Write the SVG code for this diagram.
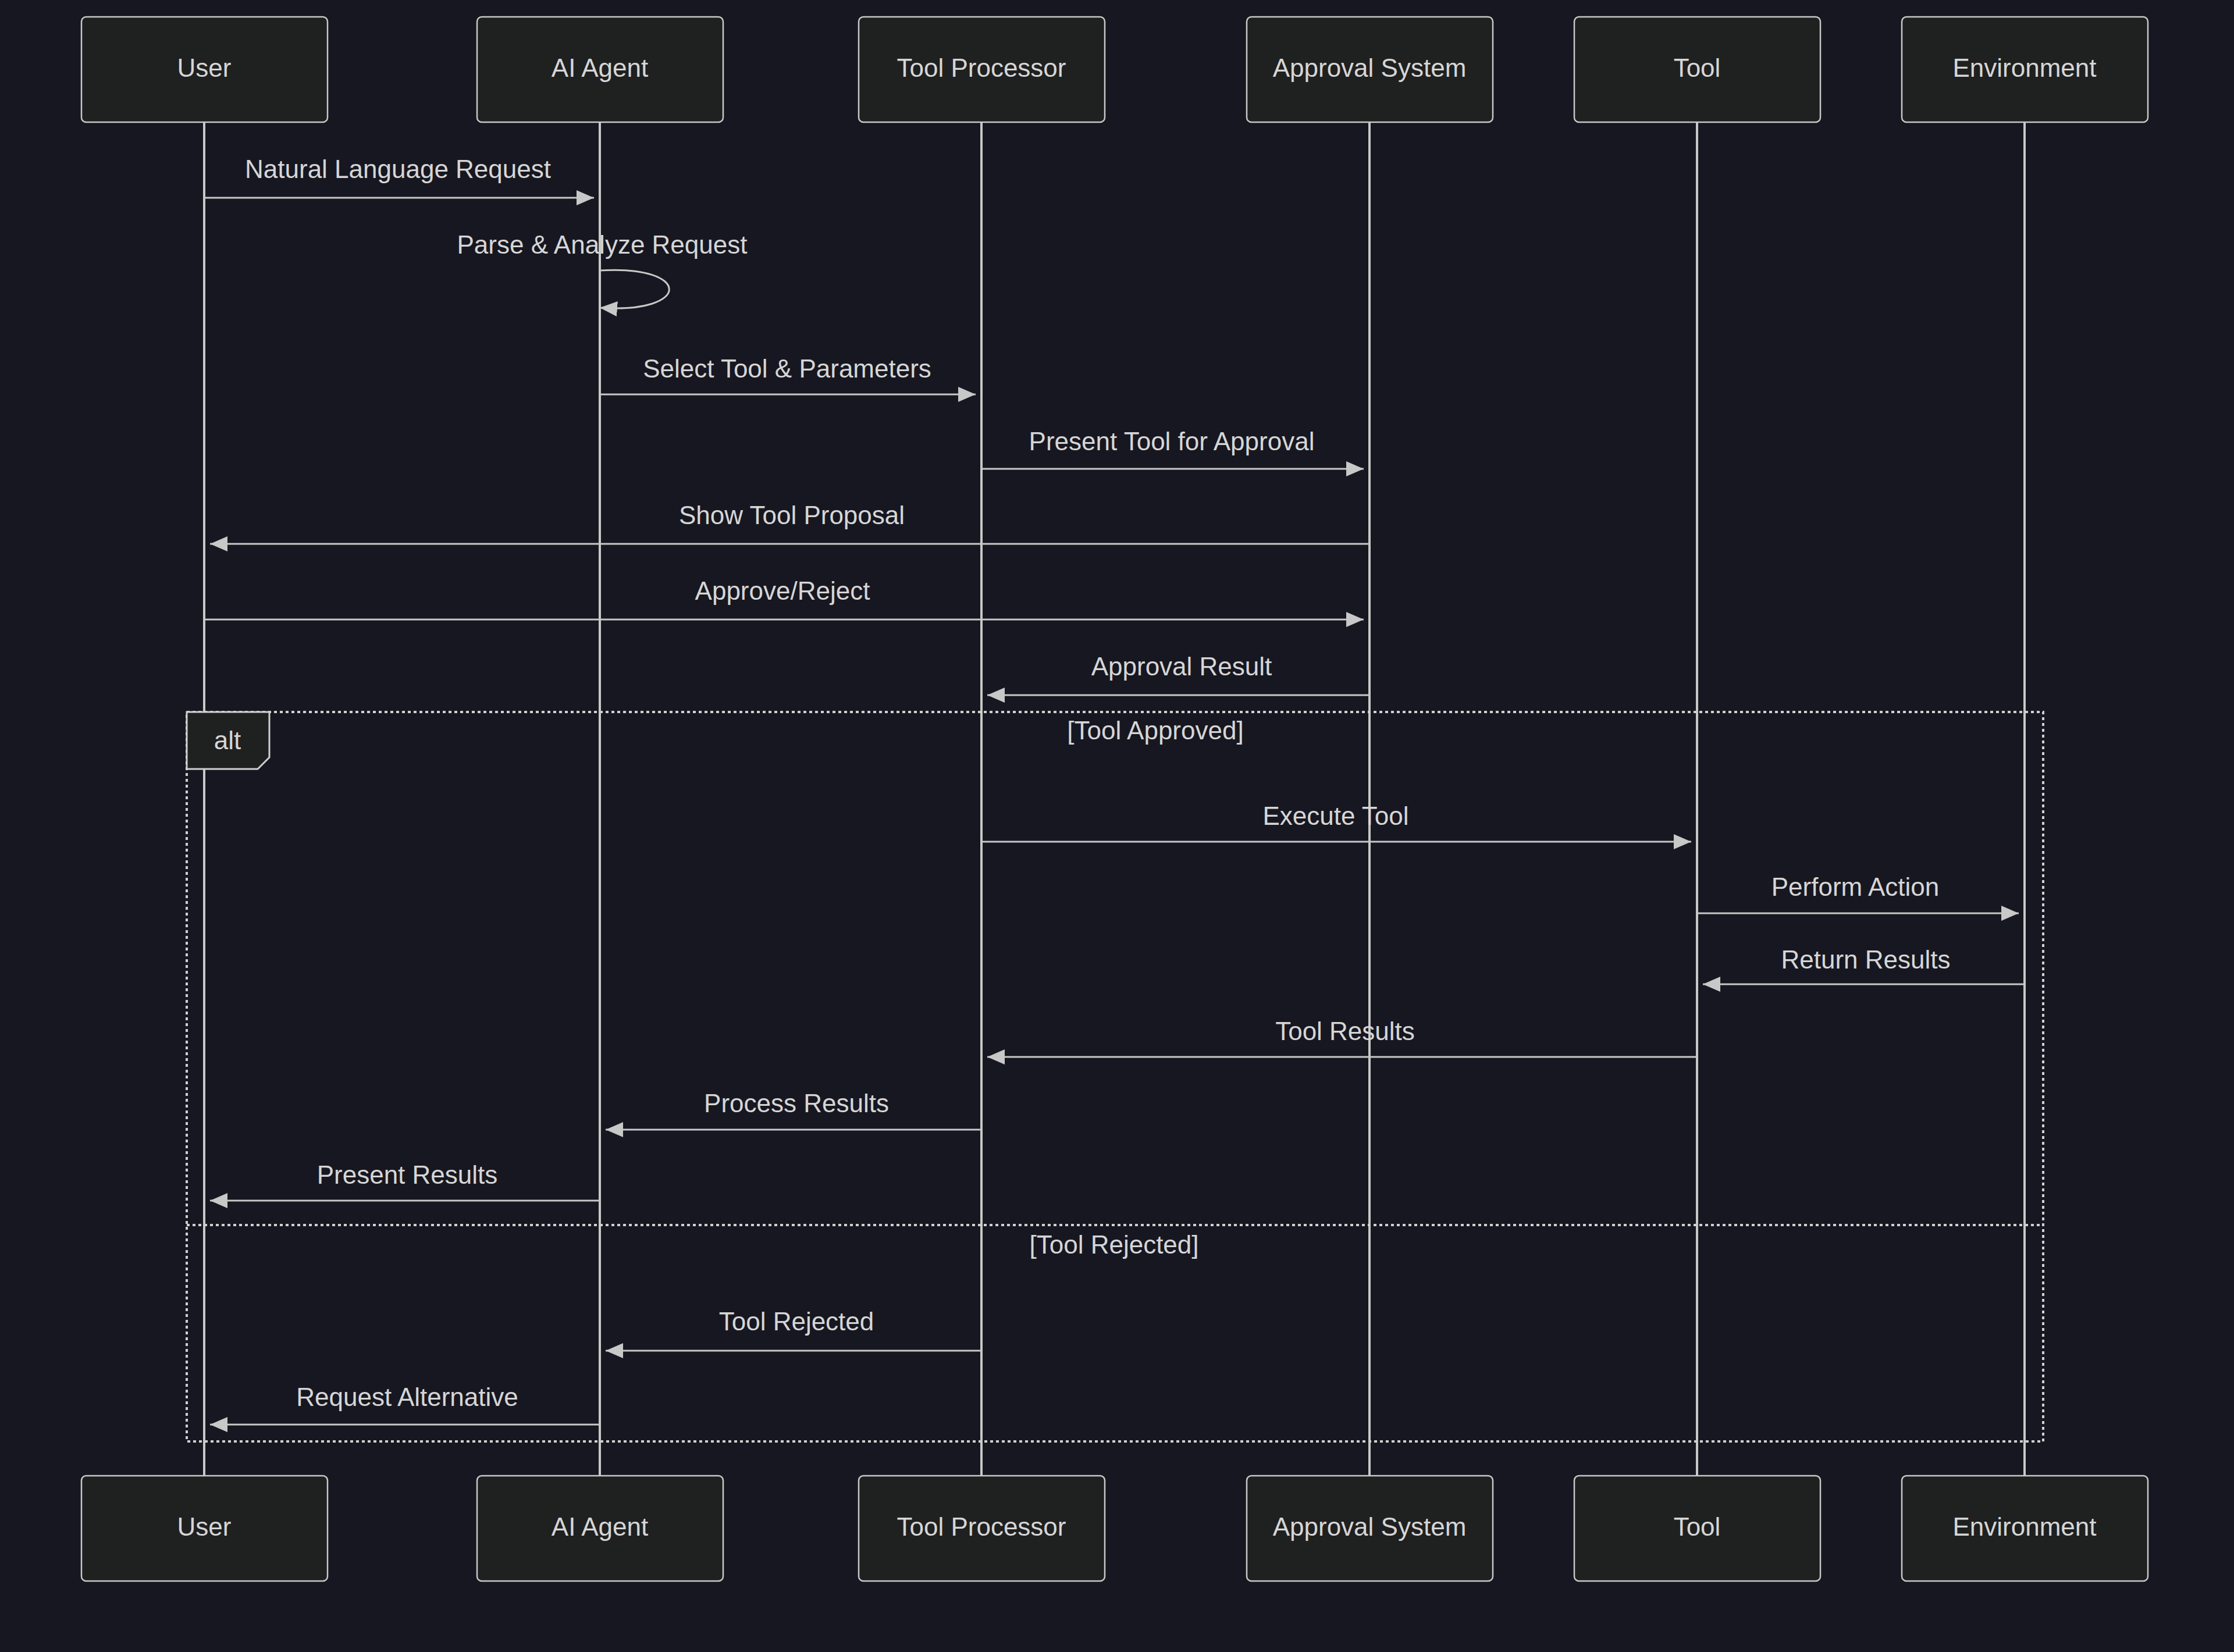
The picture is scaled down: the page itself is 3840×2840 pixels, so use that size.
<svg xmlns="http://www.w3.org/2000/svg" width="3840" height="2840" viewBox="0 0 3840 2840">
<style>
.bg{fill:#171721}
.actor{fill:#1f2020;stroke:#c8c8c8;stroke-width:2.5}
.life{stroke:#c8c8c8;stroke-width:4;fill:none}
.msg{stroke:#c8c8c8;stroke-width:3;fill:none}
.t{font-family:"Liberation Sans",Arial,sans-serif;font-size:44px;fill:#d6d6d6;text-anchor:middle;dominant-baseline:middle}
.frame{stroke:#d0d0d0;stroke-width:4;stroke-dasharray:5 5;fill:none}
</style>
<defs>
<marker id="ah" markerUnits="userSpaceOnUse" markerWidth="30" markerHeight="26" refX="30" refY="13" orient="auto">
<path d="M0,0 L30,13 L0,26 Z" fill="#c8c8c8"/>
</marker>
</defs>
<rect class="bg" x="0" y="0" width="3840" height="2840"/>
<g id="lifelines">
<line class="life" x1="351" y1="211" x2="351" y2="2537"/>
<line class="life" x1="1031" y1="211" x2="1031" y2="2537"/>
<line class="life" x1="1687" y1="211" x2="1687" y2="2537"/>
<line class="life" x1="2354" y1="211" x2="2354" y2="2537"/>
<line class="life" x1="2917" y1="211" x2="2917" y2="2537"/>
<line class="life" x1="3480" y1="211" x2="3480" y2="2537"/>
</g>
<g id="actor-user"><rect class="actor" x="140" y="29" width="423" height="181" rx="8"/><text class="t" x="351" y="120">User</text>
<rect class="actor" x="140" y="2537" width="423" height="181" rx="8"/><text class="t" x="351" y="2628">User</text></g>
<g id="actor-agent"><rect class="actor" x="820" y="29" width="423" height="181" rx="8"/><text class="t" x="1031" y="120">AI Agent</text>
<rect class="actor" x="820" y="2537" width="423" height="181" rx="8"/><text class="t" x="1031" y="2628">AI Agent</text></g>
<g id="actor-processor"><rect class="actor" x="1476" y="29" width="423" height="181" rx="8"/><text class="t" x="1687" y="120">Tool Processor</text>
<rect class="actor" x="1476" y="2537" width="423" height="181" rx="8"/><text class="t" x="1687" y="2628">Tool Processor</text></g>
<g id="actor-approval"><rect class="actor" x="2143" y="29" width="423" height="181" rx="8"/><text class="t" x="2354" y="120">Approval System</text>
<rect class="actor" x="2143" y="2537" width="423" height="181" rx="8"/><text class="t" x="2354" y="2628">Approval System</text></g>
<g id="actor-tool"><rect class="actor" x="2706" y="29" width="423" height="181" rx="8"/><text class="t" x="2917" y="120">Tool</text>
<rect class="actor" x="2706" y="2537" width="423" height="181" rx="8"/><text class="t" x="2917" y="2628">Tool</text></g>
<g id="actor-env"><rect class="actor" x="3269" y="29" width="423" height="181" rx="8"/><text class="t" x="3480" y="120">Environment</text>
<rect class="actor" x="3269" y="2537" width="423" height="181" rx="8"/><text class="t" x="3480" y="2628">Environment</text></g>
<g id="alt-frame">
<rect class="frame" x="321" y="1224" width="3191" height="1254"/>
<line class="frame" x1="321" y1="2106" x2="3512" y2="2106"/>
<path d="M321,1224 H463 V1302 L443,1322 H321 Z" fill="#1f2020" stroke="#d0d0d0" stroke-width="3"/>
<text class="t" x="391" y="1276">alt</text>
<text class="t" x="1986" y="1259">[Tool Approved]</text>
<text class="t" x="1915" y="2143">[Tool Rejected]</text>
</g>
<g id="connectors">
<line class="msg" x1="351" y1="340" x2="1021" y2="340" marker-end="url(#ah)"/>
<text class="t" x="684" y="294">Natural Language Request</text>
<path class="msg" d="M1031,465 C1190,455 1190,540 1031,529" marker-end="url(#ah)"/>
<text class="t" x="1035" y="424">Parse &amp; Analyze Request</text>
<line class="msg" x1="1031" y1="678" x2="1677" y2="678" marker-end="url(#ah)"/>
<text class="t" x="1353" y="637">Select Tool &amp; Parameters</text>
<line class="msg" x1="1687" y1="806" x2="2344" y2="806" marker-end="url(#ah)"/>
<text class="t" x="2014" y="762">Present Tool for Approval</text>
<line class="msg" x1="2354" y1="935" x2="361" y2="935" marker-end="url(#ah)"/>
<text class="t" x="1361" y="889">Show Tool Proposal</text>
<line class="msg" x1="351" y1="1065" x2="2344" y2="1065" marker-end="url(#ah)"/>
<text class="t" x="1345" y="1019">Approve/Reject</text>
<line class="msg" x1="2354" y1="1195" x2="1697" y2="1195" marker-end="url(#ah)"/>
<text class="t" x="2031" y="1149">Approval Result</text>
<line class="msg" x1="1687" y1="1447" x2="2907" y2="1447" marker-end="url(#ah)"/>
<text class="t" x="2296" y="1406">Execute Tool</text>
<line class="msg" x1="2917" y1="1570" x2="3470" y2="1570" marker-end="url(#ah)"/>
<text class="t" x="3189" y="1528">Perform Action</text>
<line class="msg" x1="3480" y1="1692" x2="2927" y2="1692" marker-end="url(#ah)"/>
<text class="t" x="3207" y="1653">Return Results</text>
<line class="msg" x1="2917" y1="1817" x2="1697" y2="1817" marker-end="url(#ah)"/>
<text class="t" x="2312" y="1776">Tool Results</text>
<line class="msg" x1="1687" y1="1942" x2="1041" y2="1942" marker-end="url(#ah)"/>
<text class="t" x="1369" y="1900">Process Results</text>
<line class="msg" x1="1031" y1="2064" x2="361" y2="2064" marker-end="url(#ah)"/>
<text class="t" x="700" y="2023">Present Results</text>
<line class="msg" x1="1687" y1="2322" x2="1041" y2="2322" marker-end="url(#ah)"/>
<text class="t" x="1369" y="2275">Tool Rejected</text>
<line class="msg" x1="1031" y1="2449" x2="361" y2="2449" marker-end="url(#ah)"/>
<text class="t" x="700" y="2405">Request Alternative</text>
</g>
</svg>
